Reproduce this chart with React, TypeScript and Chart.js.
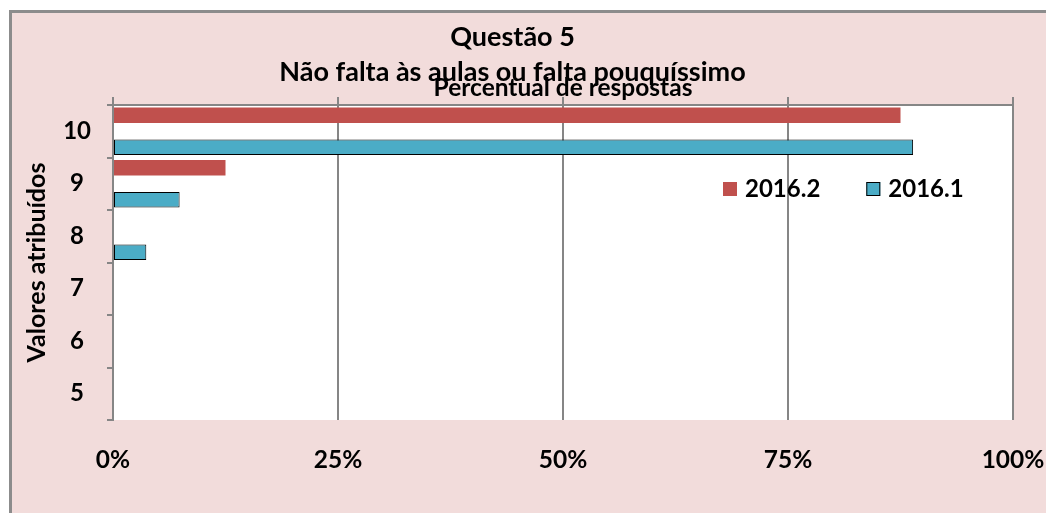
import React, { useEffect, useRef } from "react";
import { Chart, registerables } from "chart.js";

Chart.register(...registerables);

const categories = ["10", "9", "8", "7", "6", "5"];
const seriesLabels = ["2016.2", "2016.1"];
const values2016_2: (number | null)[] = [87.5, 12.5, null, null, null, null];
const values2016_1: (number | null)[] = [88.9, 7.4, 3.7, null, null, null];
const xTickValues = [0, 25, 50, 75, 100];
const titleText = "Questão 5";
const subtitleText = "Não falta às aulas ou falta pouquíssimo";
const xAxisTitle = "Percentual de respostas";
const yAxisTitle = "Valores atribuídos";

const FONT = "Lato";
const GRAY = "#868686";
const PINK = "#f2dcdb";

const plotBgPlugin = {
  id: "plotBg",
  beforeDraw(chart: any) {
    const { ctx, chartArea } = chart;
    ctx.save();
    ctx.fillStyle = "#ffffff";
    ctx.fillRect(chartArea.left, chartArea.top, chartArea.right - chartArea.left, chartArea.bottom - chartArea.top);
    ctx.restore();
  },
};

const legendPlugin = {
  id: "insideLegend",
  afterDraw(chart: any) {
    const { ctx, chartArea } = chart;
    ctx.save();
    ctx.font = `bold 24px ${FONT}`;
    ctx.textBaseline = "middle";
    ctx.textAlign = "left";
    let x = chartArea.left + 610;
    const y = chartArea.top + 84;
    chart.data.datasets.forEach((ds: any) => {
      ctx.fillStyle = ds.backgroundColor;
      ctx.fillRect(x, y - 7, 14, 14);
      if (ds.borderWidth) {
        ctx.strokeStyle = ds.borderColor;
        ctx.lineWidth = 1;
        ctx.strokeRect(x + 0.5, y - 6.5, 13, 13);
      }
      ctx.fillStyle = "#000000";
      ctx.fillText(ds.label, x + 22, y);
      x += 22 + ctx.measureText(ds.label).width + 46;
    });
    ctx.restore();
  },
};

const setTicks = (scale: any) => {
  scale.ticks = xTickValues.map((v) => ({ value: v }));
};

export default function App() {
  const canvasRef = useRef<HTMLCanvasElement | null>(null);

  useEffect(() => {
    if (!canvasRef.current) return;
    const chart = new Chart(canvasRef.current, {
      type: "bar",
      data: {
        labels: categories,
        datasets: [
          {
            label: seriesLabels[0],
            data: values2016_2,
            backgroundColor: "#c0504d",
            borderWidth: 0,
            categoryPercentage: 1.22,
            barPercentage: 0.48,
          },
          {
            label: seriesLabels[1],
            data: values2016_1,
            backgroundColor: "#4bacc6",
            borderColor: "#000000",
            borderWidth: 1,
            borderSkipped: false,
            categoryPercentage: 1.22,
            barPercentage: 0.48,
          },
        ],
      } as any,
      options: {
        indexAxis: "y",
        responsive: false,
        animation: false,
        layout: { padding: { left: 0, right: 33, top: 0, bottom: 0 } },
        plugins: {
          legend: { display: false },
          tooltip: { enabled: false },
          title: {
            display: true,
            text: titleText,
            color: "#000000",
            font: { family: FONT, size: 27, weight: "bold" },
            padding: { top: 7.8, bottom: 0 },
          },
          subtitle: {
            display: true,
            text: subtitleText,
            color: "#000000",
            font: { family: FONT, size: 27, weight: "bold" },
            padding: { top: 2.6, bottom: 0 },
          },
        },
        scales: {
          x: {
            type: "linear",
            position: "bottom",
            min: 0,
            max: 100,
            afterBuildTicks: setTicks,
            afterFit: (s: any) => {
              s.height = 93;
              s.paddingLeft = 0;
              s.paddingRight = 0;
            },
            grid: { color: GRAY, lineWidth: 2, drawTicks: false },
            border: { display: false },
            ticks: {
              color: "#000000",
              padding: 25.3,
              font: { family: FONT, size: 24.5, weight: "bold" },
              callback: (v: any) => `${v}%`,
            },
          },
          x2: {
            type: "linear",
            position: "top",
            display: true,
            min: 0,
            max: 100,
            afterBuildTicks: setTicks,
            afterFit: (s: any) => {
              s.height = 16.8;
              s.paddingLeft = 0;
              s.paddingRight = 0;
            },
            grid: { color: GRAY, lineWidth: 2, drawOnChartArea: false, drawTicks: true, tickLength: 8 },
            border: { display: true, color: GRAY, width: 2 },
            ticks: { display: false },
            title: {
              display: true,
              text: xAxisTitle,
              color: "#000000",
              font: { family: FONT, size: 24.5, weight: "bold" },
              padding: { top: -14.9, bottom: 0 },
            },
          },
          y: {
            type: "category",
            position: "left",
            afterFit: (s: any) => {
              s.width = 101;
            },
            grid: { color: GRAY, lineWidth: 2, drawOnChartArea: false, tickLength: 6, offset: true },
            border: { display: true, color: GRAY, width: 2 },
            ticks: {
              color: "#000000",
              padding: 16,
              crossAlign: "center",
              font: { family: FONT, size: 24, weight: "bold" },
            },
            title: {
              display: true,
              text: yAxisTitle,
              color: "#000000",
              font: { family: FONT, size: 25, weight: "bold" },
              padding: { top: 10.2, bottom: 0 },
            },
          },
        },
      } as any,
      plugins: [plotBgPlugin, legendPlugin],
    });
    return () => chart.destroy();
  }, []);

  return (
    <div
      style={{
        position: "absolute",
        left: 9,
        top: 10,
        width: 1037,
        height: 503,
        boxSizing: "border-box",
        background: PINK,
        borderTop: "3px solid #8c8c8c",
        borderLeft: "3px solid #8c8c8c",
        overflow: "hidden",
      }}
    >
      <canvas ref={canvasRef} width={1034} height={500} style={{ display: "block" }} />
    </div>
  );
}
